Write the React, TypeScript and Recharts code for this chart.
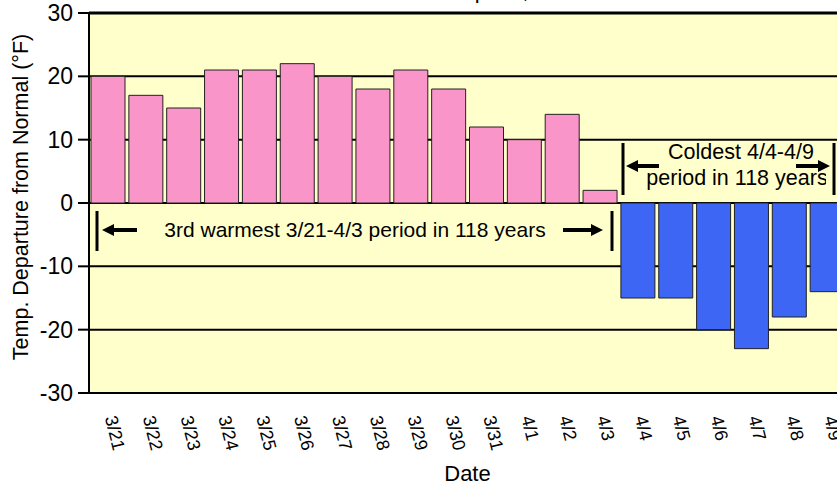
import { BarChart, Bar, XAxis, YAxis, CartesianGrid, ReferenceLine, Cell } from "recharts";

const dates = [
  "3/21", "3/22", "3/23", "3/24", "3/25", "3/26", "3/27", "3/28", "3/29", "3/30",
  "3/31", "4/1", "4/2", "4/3", "4/4", "4/5", "4/6", "4/7", "4/8", "4/9",
];
const departures = [20, 17, 15, 21, 21, 22, 20, 18, 21, 18, 12, 10, 14, 2, -15, -15, -20, -23, -18, -14];
const yTicks = [-30, -20, -10, 0, 10, 20, 30];

const data = dates.map((d, i) => ({ date: d, dep: departures[i] }));

const FONT = "'Liberation Sans', Arial, Helvetica, sans-serif";

function DateTick({ x, y, payload }: any) {
  return (
    <g transform={`translate(${x + 3},${y + 15})`}>
      <text
        x={0}
        y={0}
        dy="0.35em"
        transform="rotate(76)"
        textAnchor="start"
        fontSize={18}
        fontFamily={FONT}
        fill="#000"
      >
        {payload.value}
      </text>
    </g>
  );
}

function YTitle({ viewBox }: any) {
  const cy = viewBox.y + viewBox.height / 2;
  return (
    <text
      x={0}
      y={0}
      transform={`translate(28,${cy - 6}) rotate(-90)`}
      textAnchor="middle"
      fontSize={21.5}
      fontFamily={FONT}
      fill="#000"
    >
      Temp. Departure from Normal (°F)
    </text>
  );
}

function Arrow({ x1, x2, y }: { x1: number; x2: number; y: number }) {
  // head at x2
  const dir = x2 > x1 ? 1 : -1;
  const base = x2 - dir * 12;
  return (
    <g>
      <line x1={x1} y1={y} x2={base} y2={y} stroke="#000" strokeWidth={4} />
      <polygon points={`${x2},${y} ${base},${y - 6} ${base},${y + 6}`} fill="#000" />
    </g>
  );
}

export default function App() {
  return (
    <div
      style={{
        position: "fixed",
        left: 0,
        top: 0,
        width: 837,
        height: 485,
        overflow: "hidden",
        background: "#fff",
      }}
    >
      <BarChart
        width={860}
        height={485}
        data={data}
        margin={{ top: 13, right: 14, left: 0, bottom: 0 }}
        barCategoryGap={2}
      >
        <CartesianGrid
          vertical={false}
          stroke="#000"
          strokeWidth={2}
          fill="#FFFFCC"
          fillOpacity={1}
        />
        <XAxis
          dataKey="date"
          interval={0}
          tickLine={false}
          axisLine={{ stroke: "#000", strokeWidth: 2 }}
          height={92}
          tick={<DateTick />}
          label={{
            value: "Date",
            position: "insideBottom",
            offset: 4,
            style: { fontSize: 22, fontFamily: FONT, fill: "#000" },
          }}
        />
        <YAxis
          domain={[-30, 30]}
          ticks={yTicks}
          width={89}
          tickSize={11}
          tickMargin={5}
          tickLine={{ stroke: "#000", strokeWidth: 2 }}
          axisLine={{ stroke: "#000", strokeWidth: 2 }}
          tick={{ fontSize: 23, fontFamily: FONT, fill: "#000" }}
          label={<YTitle />}
        />
        <ReferenceLine y={30} stroke="#000" strokeWidth={3} />
        <Bar dataKey="dep" stroke="#222" strokeWidth={1} isAnimationActive={false}>
          {data.map((d) => (
            <Cell key={d.date} fill={d.dep >= 0 ? "#F995C8" : "#3D66F5"} />
          ))}
        </Bar>
      </BarChart>
      <svg
        width={837}
        height={485}
        style={{ position: "absolute", left: 0, top: 0, pointerEvents: "none" }}
      >
        <defs>
          <clipPath id="coldClip">
            <rect x={600} y={140} width={226} height={60} />
          </clipPath>
        </defs>
        <text x={350} y={-2} fontSize={22} fontFamily={FONT} fill="#000">
          March 21 - April 9, 2007
        </text>
        {/* warm period annotation */}
        <line x1={97} y1={211} x2={97} y2={251} stroke="#000" strokeWidth={3} />
        <line x1={612} y1={211} x2={612} y2={251} stroke="#000" strokeWidth={3} />
        <Arrow x1={137} x2={102} y={230} />
        <Arrow x1={563} x2={603} y={230} />
        <text x={355} y={237} textAnchor="middle" fontSize={21} fontFamily={FONT} fill="#000">
          3rd warmest 3/21-4/3 period in 118 years
        </text>
        {/* cold period annotation */}
        <line x1={623} y1={143} x2={623} y2={195} stroke="#000" strokeWidth={3} />
        <line x1={834} y1={143} x2={834} y2={195} stroke="#000" strokeWidth={3} />
        <Arrow x1={659} x2={626} y={166} />
        <Arrow x1={796} x2={830} y={166} />
        <g clipPath="url(#coldClip)">
          <text x={741} y={159} textAnchor="middle" fontSize={21.5} fontFamily={FONT} fill="#000">
            Coldest 4/4-4/9
          </text>
          <text x={737} y={185} textAnchor="middle" fontSize={21.5} fontFamily={FONT} fill="#000">
            period in 118 years
          </text>
        </g>
      </svg>
    </div>
  );
}
